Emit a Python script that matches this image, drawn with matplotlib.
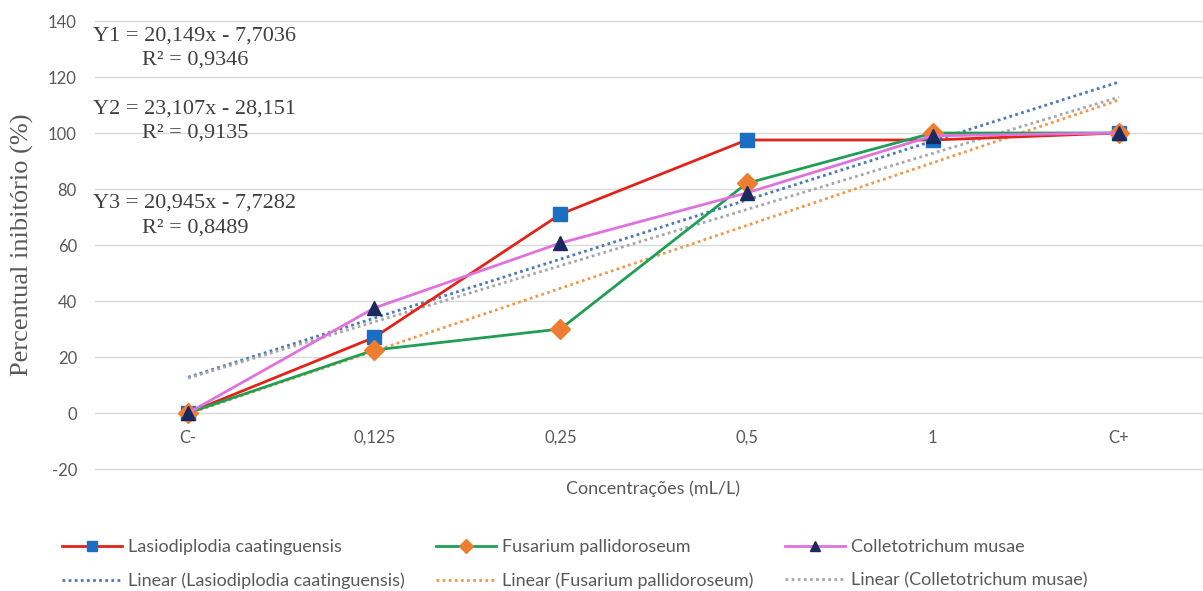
import numpy as np
import matplotlib
matplotlib.use("Agg")
import matplotlib.pyplot as plt

# dados
categorias = ["C-", "0,125", "0,25", "0,5", "1", "C+"]
lasiodiplodia = [0, 27, 71, 97.5, 97.5, 100]
fusarium = [0, 22.5, 30, 82, 100, 100]
colletotrichum = [0, 37.5, 60.7, 78.6, 99, 100]

nomes = ["Lasiodiplodia caatinguensis", "Fusarium pallidoroseum", "Colletotrichum musae"]
equacoes = ["Y1 = 20,149x - 7,7036\nR² = 0,9346",
            "Y2 = 23,107x - 28,151\nR² = 0,9135",
            "Y3 = 20,945x - 7,7282\nR² = 0,8489"]
yticks = [-20, 0, 20, 40, 60, 80, 100, 120, 140]

plt.rcParams["axes.unicode_minus"] = False
sans = ["Lato", "DejaVu Sans"]
serif = ["Liberation Serif", "DejaVu Serif"]

fig = plt.figure(figsize=(12.03, 5.91), dpi=100)
ax = fig.add_axes([95 / 1203, 1 - 469 / 591, (1212 - 95) / 1203, (469 - 21) / 591])

x = np.arange(len(categorias))
series = [lasiodiplodia, fusarium, colletotrichum]
cores = ["#E2231A", "#1F9F55", "#DF72DF"]
marcadores = ["s", "D", "^"]
cores_marc = ["#1B6FC2", "#ED7D31", "#1B2A5E"]
tamanhos = [10, 10, 10.5]
cores_tend = ["#4E79B5", "#EE9A4D", "#A8A8A8"]

handles = []
for ys, c, m, cm, ms, ct, nome in zip(series, cores, marcadores, cores_marc, tamanhos, cores_tend, nomes):
    h, = ax.plot(x, ys, color=c, lw=2, marker=m, ms=ms, mfc=cm, mec=cm, label=nome, zorder=3)
    # linha de tendência (regressão linear sobre x = 1..6)
    coef = np.polyfit(x + 1, ys, 1)
    yt = np.polyval(coef, x + 1)
    ht, = ax.plot(x, yt, color=ct, lw=2, ls=(0, (1, 1.2)), label="Linear (" + nome + ")", zorder=2)
    handles += [h, ht]

ax.set_xlim(-0.5, 5.5)
ax.set_ylim(-20, 140)
ax.set_yticks(yticks)
ax.grid(axis="y", color="#D9D9D9", lw=1)
for gl in ax.get_ygridlines():
    gl.set_clip_on(False)
ax.set_axisbelow(True)
for s in ["left", "right", "top"]:
    ax.spines[s].set_visible(False)
ax.spines["bottom"].set_position(("data", 0))
ax.spines["bottom"].set_color("#D9D9D9")
ax.set_xticks(x)
ax.set_xticklabels(categorias)
ax.tick_params(axis="both", length=0, colors="#595959", labelsize=12)
ax.tick_params(axis="x", pad=12)
ax.tick_params(axis="y", pad=13)
for lab in ax.get_xticklabels() + ax.get_yticklabels():
    lab.set_family(sans)

# equações
pos_y = [130.4, 104.3, 70.5]
for txt, yy in zip(equacoes, pos_y):
    ax.text(0.037, yy, txt, ha="center", va="center", family=serif, fontsize=16,
            color="#404040", linespacing=1.37)

fig.text(22 / 1203, 1 - 245 / 591, "Percentual inibitório (%)", rotation=90, ha="center",
         va="center", family=serif, fontsize=19, color="#595959")
fig.text(653 / 1203, 1 - 489 / 591, "Concentrações (mL/L)", ha="center", va="center",
         family=sans, fontsize=13, color="#595959")

leg = fig.legend(handles=handles, labels=[h.get_label() for h in handles], ncol=3,
                 loc="center left", bbox_to_anchor=(62 / 1203, 1 - 564 / 591),
                 frameon=False, prop={"family": sans, "size": 13}, handlelength=3.3,
                 columnspacing=1.75, labelspacing=0.95, handletextpad=0.35,
                 borderpad=0, borderaxespad=0, markerscale=0.7)
for t in leg.get_texts():
    t.set_color("#595959")

fig.savefig("out.png", dpi=100)
